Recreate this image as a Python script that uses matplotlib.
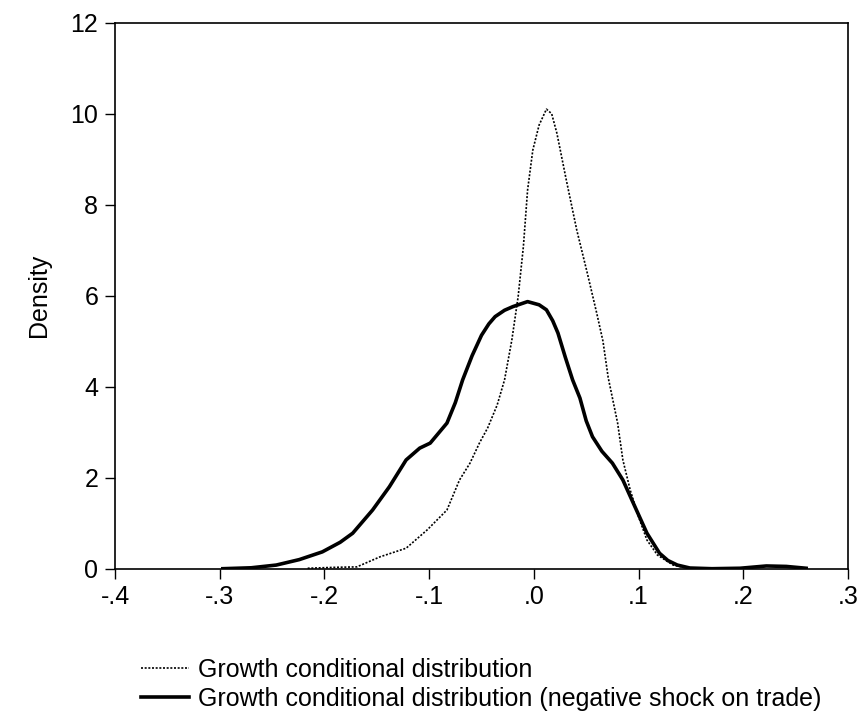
import matplotlib
matplotlib.use("Agg")
import matplotlib.pyplot as plt

plt.rcParams['font.family'] = ['Liberation Sans', 'DejaVu Sans']

# Growth conditional distribution (dotted)
base_x = [-0.216, -0.19, -0.169, -0.147, -0.122, -0.102, -0.083, -0.071, -0.061, -0.052,
          -0.044, -0.035, -0.028, -0.021, -0.015, -0.010, -0.006, -0.001, 0.005, 0.012,
          0.017, 0.022, 0.031, 0.041, 0.051, 0.060, 0.066, 0.071, 0.080, 0.085,
          0.092, 0.100, 0.108, 0.118, 0.133, 0.146, 0.16]
base_y = [0.01, 0.03, 0.04, 0.26, 0.45, 0.85, 1.29, 1.95, 2.32, 2.76,
          3.1, 3.6, 4.15, 5.03, 5.98, 7.08, 8.32, 9.2, 9.75, 10.1,
          10.0, 9.57, 8.54, 7.44, 6.5, 5.62, 5.0, 4.2, 3.2, 2.39,
          1.73, 1.14, 0.63, 0.3, 0.08, 0.015, 0.0]

# Growth conditional distribution (negative shock on trade) (solid)
shock_x = [-0.297, -0.27, -0.246, -0.224, -0.202, -0.185, -0.173, -0.154, -0.138, -0.122,
           -0.109, -0.099, -0.083, -0.075, -0.068, -0.059, -0.050, -0.043, -0.037, -0.028,
           -0.020, -0.006, 0.005, 0.012, 0.018, 0.023, 0.030, 0.037, 0.044, 0.050,
           0.056, 0.065, 0.075, 0.085, 0.095, 0.108, 0.120, 0.128, 0.137, 0.149,
           0.17, 0.197, 0.222, 0.241, 0.260]
shock_y = [0.0, 0.02, 0.08, 0.2, 0.37, 0.58, 0.78, 1.29, 1.8, 2.39,
           2.65, 2.76, 3.2, 3.65, 4.15, 4.68, 5.13, 5.38, 5.54, 5.68,
           5.76, 5.87, 5.8, 5.69, 5.45, 5.18, 4.65, 4.15, 3.75, 3.25,
           2.9, 2.58, 2.32, 1.95, 1.44, 0.78, 0.34, 0.18, 0.08, 0.015,
           0.0, 0.01, 0.06, 0.05, 0.01]

labels = ["Growth conditional distribution",
          "Growth conditional distribution (negative shock on trade)"]
xticks = [-0.4, -0.3, -0.2, -0.1, 0.0, 0.1, 0.2, 0.3]
xticklabels = ["-.4", "-.3", "-.2", "-.1", ".0", ".1", ".2", ".3"]
yticks = [0, 2, 4, 6, 8, 10, 12]

fig = plt.figure(figsize=(8.61, 7.17), dpi=100)
ax = fig.add_axes([115/861, 1 - 568.7/717, (848 - 115)/861, (568.7 - 22.7)/717])

l1, = ax.plot(base_x, base_y, color='black', lw=1.2, linestyle=(0, (1.2, 1.0)))
l2, = ax.plot(shock_x, shock_y, color='black', lw=2.6, solid_joinstyle='round')

ax.set_xlim(-0.4, 0.3)
ax.set_ylim(0, 12)
ax.set_xticks(xticks)
ax.set_xticklabels(xticklabels)
ax.set_yticks(yticks)
ax.tick_params(direction='out', length=7, width=1, labelsize=18, pad=5, colors='black')
for s in ax.spines.values():
    s.set_linewidth(1.2)
ax.set_ylabel("Density", fontsize=18, labelpad=14)

fig.legend([l1, l2], labels, loc='upper left', bbox_to_anchor=(141/861, 1 - 658/717),
           frameon=False, fontsize=18, handlelength=1.9, handletextpad=0.36,
           labelspacing=0.2, borderpad=0, borderaxespad=0)

fig.savefig("out.png", dpi=100)
